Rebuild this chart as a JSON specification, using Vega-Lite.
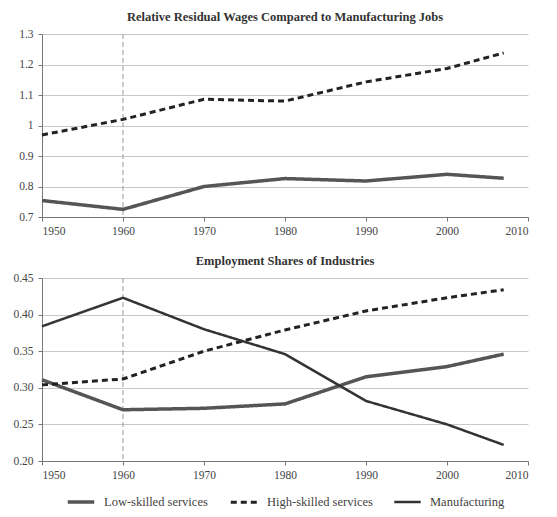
{
  "$schema": "https://vega.github.io/schema/vega-lite/v6.json",
  "padding": {"left": 12, "top": 10, "right": 14, "bottom": 8},
  "background": "white",
  "config": {
    "font": "Liberation Serif",
    "view": {"stroke": null},
    "title": {"font": "Liberation Serif", "fontSize": 12.5, "fontWeight": "bold", "color": "#333", "anchor": "middle", "offset": 5},
    "axis": {
      "labelFont": "Liberation Serif", "labelFontSize": 11.5, "labelColor": "#444",
      "domainColor": "#777", "tickColor": "#777", "tickSize": 4,
      "gridColor": "#c8c8c8", "gridWidth": 1, "title": null
    },
    "axisX": {"grid": false, "labelPadding": 4},
    "axisY": {"labelPadding": 5},
    "legend": {
      "labelFont": "Liberation Serif", "labelFontSize": 12.5, "labelColor": "#444",
      "layout": {"bottom": {"anchor": "middle"}}
    }
  },
  "datasets": {
    "wages": [
      {"year": 1950, "series": "Low-skilled services", "value": 0.754},
      {"year": 1960, "series": "Low-skilled services", "value": 0.725},
      {"year": 1970, "series": "Low-skilled services", "value": 0.800},
      {"year": 1980, "series": "Low-skilled services", "value": 0.826},
      {"year": 1990, "series": "Low-skilled services", "value": 0.818},
      {"year": 2000, "series": "Low-skilled services", "value": 0.840},
      {"year": 2007, "series": "Low-skilled services", "value": 0.827},
      {"year": 1950, "series": "High-skilled services", "value": 0.969},
      {"year": 1960, "series": "High-skilled services", "value": 1.020},
      {"year": 1970, "series": "High-skilled services", "value": 1.086},
      {"year": 1980, "series": "High-skilled services", "value": 1.080},
      {"year": 1990, "series": "High-skilled services", "value": 1.143},
      {"year": 2000, "series": "High-skilled services", "value": 1.187},
      {"year": 2007, "series": "High-skilled services", "value": 1.238}
    ],
    "shares": [
      {"year": 1950, "series": "Low-skilled services", "value": 0.311},
      {"year": 1960, "series": "Low-skilled services", "value": 0.270},
      {"year": 1970, "series": "Low-skilled services", "value": 0.272},
      {"year": 1980, "series": "Low-skilled services", "value": 0.278},
      {"year": 1990, "series": "Low-skilled services", "value": 0.315},
      {"year": 2000, "series": "Low-skilled services", "value": 0.329},
      {"year": 2007, "series": "Low-skilled services", "value": 0.346},
      {"year": 1950, "series": "High-skilled services", "value": 0.304},
      {"year": 1960, "series": "High-skilled services", "value": 0.312},
      {"year": 1970, "series": "High-skilled services", "value": 0.350},
      {"year": 1980, "series": "High-skilled services", "value": 0.379},
      {"year": 1990, "series": "High-skilled services", "value": 0.405},
      {"year": 2000, "series": "High-skilled services", "value": 0.423},
      {"year": 2007, "series": "High-skilled services", "value": 0.434},
      {"year": 1950, "series": "Manufacturing", "value": 0.384},
      {"year": 1960, "series": "Manufacturing", "value": 0.423},
      {"year": 1970, "series": "Manufacturing", "value": 0.380},
      {"year": 1980, "series": "Manufacturing", "value": 0.346},
      {"year": 1990, "series": "Manufacturing", "value": 0.282},
      {"year": 2000, "series": "Manufacturing", "value": 0.250},
      {"year": 2007, "series": "Manufacturing", "value": 0.222}
    ],
    "marker": [{"year": 1960}]
  },
  "bounds": "flush",
  "spacing": 61,
  "vconcat": [
    {
      "title": "Relative Residual Wages Compared to Manufacturing Jobs",
      "width": 486,
      "height": 183,
      "layer": [
        {
          "data": {"name": "marker"},
          "mark": {"type": "rule", "color": "#999", "strokeDash": [5, 3], "strokeWidth": 1},
          "encoding": {"x": {"field": "year", "type": "quantitative"}}
        },
        {
          "data": {"name": "wages"},
          "mark": {"type": "line"},
          "encoding": {
            "x": {"field": "year", "type": "quantitative",
                  "scale": {"domain": [1950, 2010], "nice": false, "zero": false},
                  "axis": {"values": [1950, 1960, 1970, 1980, 1990, 2000, 2010], "format": "d"}},
            "y": {"field": "value", "type": "quantitative",
                  "scale": {"domain": [0.7, 1.3], "nice": false, "zero": false},
                  "axis": {"values": [0.7, 0.8, 0.9, 1, 1.1, 1.2, 1.3], "format": "~g"}},
            "color": {"field": "series", "type": "nominal", "title": null},
            "strokeDash": {"field": "series", "type": "nominal", "title": null},
            "strokeWidth": {"field": "series", "type": "nominal", "title": null}
          }
        }
      ]
    },
    {
      "title": "Employment Shares of Industries",
      "width": 486,
      "height": 183,
      "layer": [
        {
          "data": {"name": "marker"},
          "mark": {"type": "rule", "color": "#999", "strokeDash": [5, 3], "strokeWidth": 1},
          "encoding": {"x": {"field": "year", "type": "quantitative"}}
        },
        {
          "data": {"name": "shares"},
          "mark": {"type": "line"},
          "encoding": {
            "x": {"field": "year", "type": "quantitative",
                  "scale": {"domain": [1950, 2010], "nice": false, "zero": false},
                  "axis": {"values": [1950, 1960, 1970, 1980, 1990, 2000, 2010], "format": "d"}},
            "y": {"field": "value", "type": "quantitative",
                  "scale": {"domain": [0.2, 0.45], "nice": false, "zero": false},
                  "axis": {"values": [0.2, 0.25, 0.3, 0.35, 0.4, 0.45], "format": ".2f"}},
            "color": {"field": "series", "type": "nominal", "title": null,
                      "scale": {"domain": ["Low-skilled services", "High-skilled services", "Manufacturing"], "range": ["#555555", "#222222", "#333333"]},
                      "legend": {"orient": "bottom", "direction": "horizontal", "symbolType": "stroke", "symbolSize": 700, "columnPadding": 16, "labelOffset": 8, "offset": 6}},
            "strokeDash": {"field": "series", "type": "nominal", "title": null,
                           "scale": {"domain": ["Low-skilled services", "High-skilled services", "Manufacturing"], "range": [[1, 0], [6, 4], [1, 0]]}},
            "strokeWidth": {"field": "series", "type": "nominal", "title": null,
                            "scale": {"domain": ["Low-skilled services", "High-skilled services", "Manufacturing"], "range": [3.5, 2.5, 1.2]}}
          }
        }
      ]
    }
  ],
  "resolve": {"scale": {"y": "independent", "color": "shared", "strokeDash": "shared", "strokeWidth": "shared"}}
}
